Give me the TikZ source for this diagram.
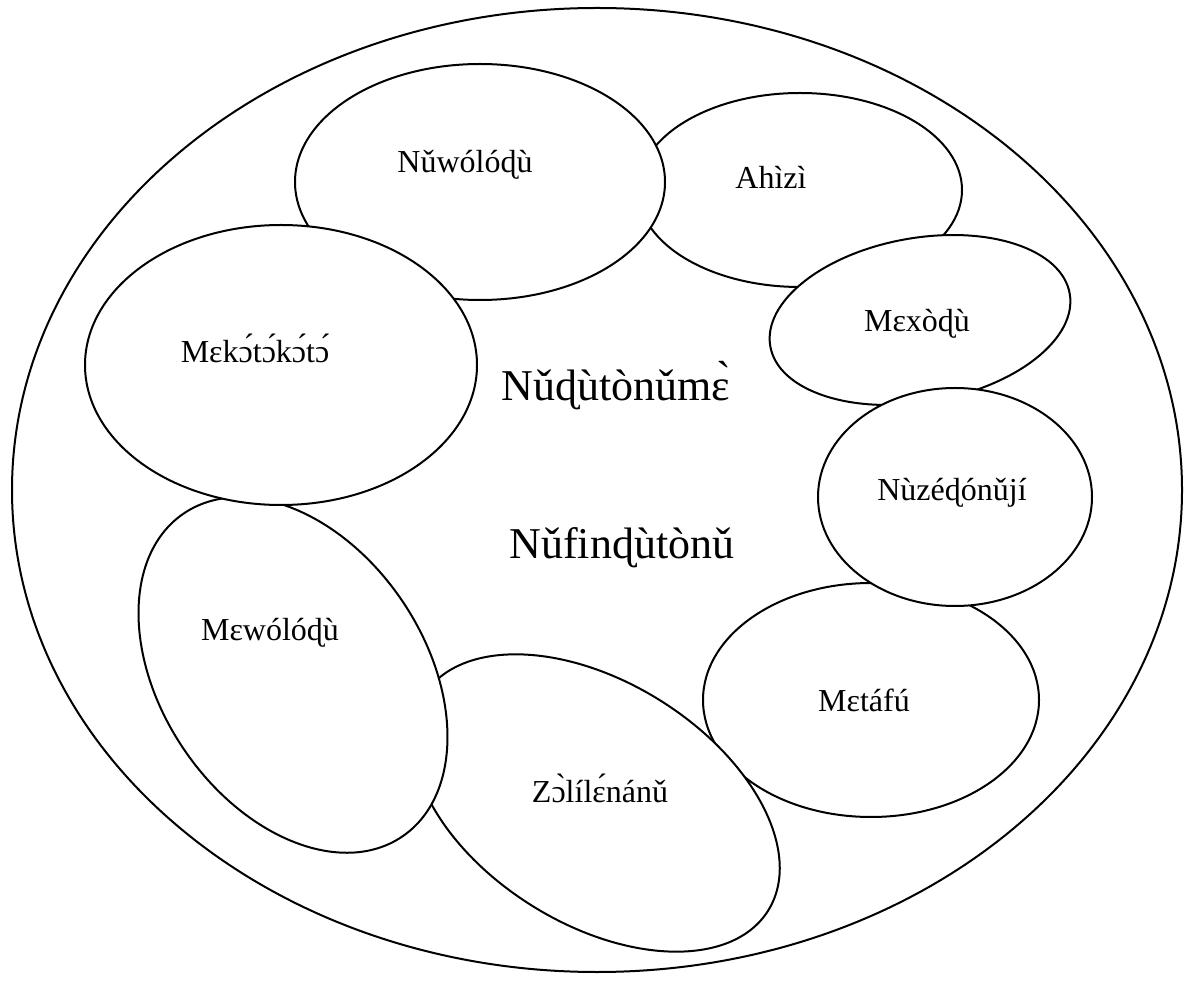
\documentclass[tikz,border=0pt]{standalone}
\usepackage{fontspec}
\setmainfont{Liberation Serif}

\tikzset{
  part/.style={draw, fill=white},
  partname/.style={font=\fontsize{16}{19}\selectfont},
  mainname/.style={font=\fontsize{22}{26}\selectfont}
}

\begin{document}
\begin{tikzpicture}[x=0.5pt, y=-0.5pt, line width=1pt]
\useasboundingbox (0,0) rectangle (1194,983);

% outer ring
\draw (597,490) ellipse (585 and 482);

% parts, back to front
\draw[part] (800,190) ellipse (162 and 97);
\draw[part] (871,700) ellipse (168 and 117);
\draw[part, rotate around={-32:(596,803)}] (596,803) ellipse (203 and 121);
\draw[part, rotate around={-56:(293,675)}] (293,675) ellipse (195 and 132);
\draw[part] (480,182) ellipse (185 and 118);
\draw[part, rotate around={10:(920,320)}] (920,320) ellipse (152 and 82);
\draw[part] (955,497) ellipse (137 and 109);
\draw[part] (281,365) ellipse (196 and 140);

% labels
\node[partname] (nuwolodu) at (465,165) {Nǔwólóɖù};
\node[partname] (ahizi) at (771,177) {Ahìzì};
\node[partname] (mexodu) at (917,324) {Mɛxòɖù};
\node[partname] (nuzedonuji) at (952,493) {Nùzéɖónǔjí};
\node[partname] (metafu) at (864,700) {Mɛtáfú};
\node[partname] (zolilenanu) at (600,788) {Zɔ̀lílɛ́nánǔ};
\node[partname] (mewolodu) at (270,633) {Mɛwólóɖù};
\node[partname] (mekotokoto) at (255,348) {Mɛkɔ́tɔ́kɔ́tɔ́};

\node[mainname] (nudutonume) at (616,386) {Nǔɖùtònǔmɛ̀};
\node[mainname] (nufindutonu) at (622,548) {Nǔfinɖùtònǔ};
\end{tikzpicture}
\end{document}
